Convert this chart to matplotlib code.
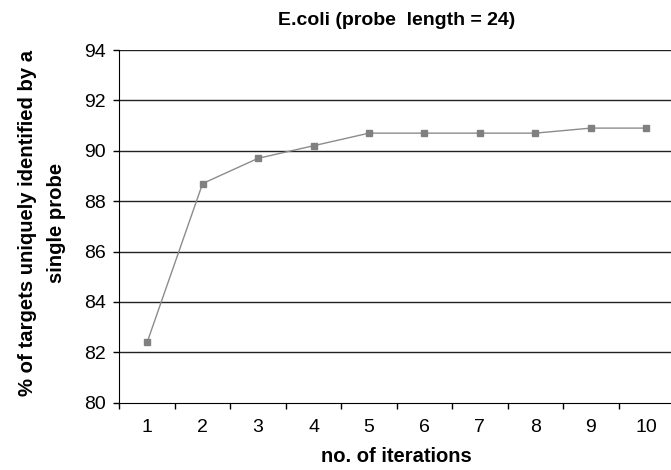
import matplotlib
matplotlib.use("Agg")
import matplotlib.pyplot as plt
import numpy as np

iterations = [1, 2, 3, 4, 5, 6, 7, 8, 9, 10]
percent_unique = [82.4, 88.7, 89.7, 90.2, 90.7, 90.7, 90.7, 90.7, 90.9, 90.9]
y_ticks = [80, 82, 84, 86, 88, 90, 92, 94]

plt.rcParams['font.family'] = ['Liberation Sans', 'DejaVu Sans']

fig = plt.figure(figsize=(6.71, 4.70), dpi=100)
ax = fig.add_axes([0.178, 0.1432, 0.8265, 0.7504])

ax.plot(iterations, percent_unique, color='#8c8c8c', linewidth=1.0,
        marker='s', markersize=5, markerfacecolor='#808080',
        markeredgecolor='#808080', zorder=3, clip_on=False)

ax.set_ylim(80, 94)
ax.set_yticks(y_ticks)
ax.set_xlim(0.5, 10.5)
ax.set_xticks(iterations)
ax.set_xticks(np.arange(0.5, 11, 1.0), minor=True)
ax.tick_params(axis='x', which='major', length=0, pad=12, labelsize=14)
ax.tick_params(axis='x', which='minor', length=4, width=1, direction='out')
ax.tick_params(axis='y', which='major', length=4, width=1, labelsize=14, pad=6)

for y in y_ticks[1:]:
    ax.axhline(y, color='#222222', linewidth=1.0, zorder=1)

for s in ['top', 'right']:
    ax.spines[s].set_visible(False)
ax.spines['left'].set_color('black')
ax.spines['bottom'].set_color('black')

ax.set_title('E.coli (probe  length = 24)', fontsize=14, fontweight='bold', pad=18)
ax.set_xlabel('no. of iterations', fontsize=14.5, fontweight='bold', labelpad=8)
ax.set_ylabel('% of targets uniquely identified by a\nsingle probe', fontsize=14.6,
              fontweight='bold', labelpad=13, linespacing=1.65)
ax.yaxis.label.set_y(0.51)

fig.savefig('out.png', dpi=100)
